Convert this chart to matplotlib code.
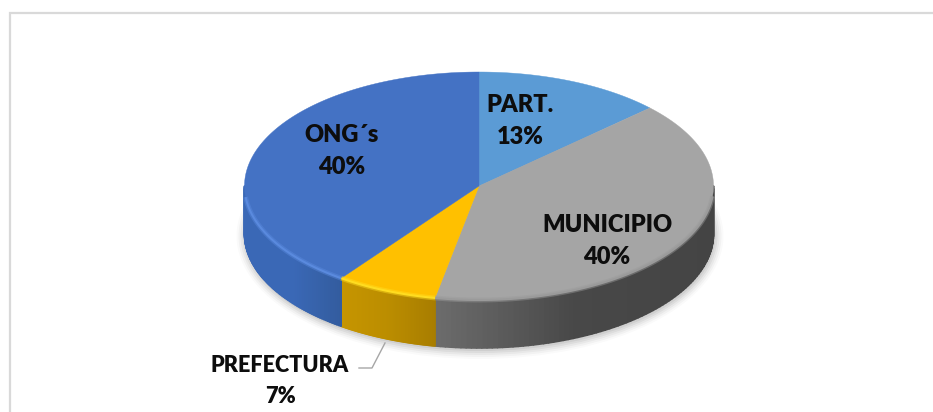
import numpy as np
import matplotlib
matplotlib.use("Agg")
import matplotlib.pyplot as plt
from matplotlib.collections import PolyCollection
from matplotlib.colors import to_rgb
from matplotlib.patches import Rectangle, Ellipse

categories = ["PART.", "MUNICIPIO", "PREFECTURA", "ONG´s"]
values = [13, 40, 7, 40]
top_colors = ["#5b9bd5", "#a5a5a5", "#ffc000", "#4472c4"]
rim_colors = ["#6fa8dc", "#9a9a9a", "#ffdc20", "#5a8ade"]
# side colours, left end / mid / right end of the visible wall
side_colors = {
    "MUNICIPIO": ["#6c6c6c", "#484848", "#444444"],
    "PREFECTURA": ["#c69500", "#bb8d00", "#a87d00"],
    "ONG´s": ["#3a68b6", "#3a68b6", "#335c9e"],
}
label_pos = {"PART.": (520, 121), "MUNICIPIO": (607, 241),
             "PREFECTURA": (280, 381), "ONG´s": (342, 151)}
label_size = {"PART.": 17, "MUNICIPIO": 17, "PREFECTURA": 15.6, "ONG´s": 17}

cx, cy, rx, ry = 479, 186, 234.5, 114
depth = 48

plt.rcParams["font.family"] = ["Lato", "DejaVu Sans"]
fig = plt.figure(figsize=(9.33, 4.12), dpi=100)
ax = fig.add_axes([0, 0, 1, 1])
ax.set_xlim(0, 933)
ax.set_ylim(412, 0)
ax.axis("off")

ax.add_patch(Rectangle((9.5, 12.5), 940, 420, fc="white", ec="#d9d9d9", lw=1.6))


def pt(a, dy=0):
    # a is measured clockwise from the top of the pie
    return cx + rx * np.sin(a), cy - ry * np.cos(a) + dy


# soft shadow under the pie
for grow, alpha in zip([9, 7, 5, 3, 1], [0.02, 0.03, 0.04, 0.05, 0.06]):
    ax.add_patch(Ellipse((cx + 1, cy + depth + 2), 2 * (rx + grow), 2 * (ry + grow),
                         fc="black", ec="none", alpha=alpha, zorder=1))

fracs = np.array(values) / sum(values)
edges = np.concatenate([[0], np.cumsum(fracs)]) * 2 * np.pi

# wall of the pie, only the front half can be seen
for i, name in enumerate(categories):
    a0, a1 = max(edges[i], np.pi / 2), min(edges[i + 1], 3 * np.pi / 2)
    if name not in side_colors or a1 <= a0:
        continue
    steps = np.linspace(a0, a1, 80)
    stops = np.array([to_rgb(c) for c in side_colors[name]])
    xs = pt(steps)[0]
    polys, cols = [], []
    for k in range(len(steps) - 1):
        x0, y0 = pt(steps[k])
        x1, y1 = pt(steps[k + 1])
        polys.append([(x0, y0), (x1, y1), (x1, y1 + depth), (x0, y0 + depth)])
        # wall colour runs left to right on screen
        t = ((x0 + x1) / 2 - xs.min()) / (xs.max() - xs.min())
        cols.append([np.interp(t, [0, .5, 1], stops[:, c]) for c in range(3)])
    ax.add_collection(PolyCollection(polys, facecolors=cols, edgecolors=cols, lw=1.2, zorder=2))

# top face
for i, name in enumerate(categories):
    a = np.linspace(edges[i], edges[i + 1], 120)
    xs, ys = pt(a)
    ax.fill(np.r_[cx, xs], np.r_[cy, ys], color=top_colors[i], lw=0.3, zorder=3)
    front = (a > np.pi / 2 + 0.08) & (a < 3 * np.pi / 2 - 0.08)
    ax.plot(xs[front], ys[front], color=rim_colors[i], lw=3.5, alpha=0.45, zorder=4,
            solid_capstyle="butt")
    ax.plot(xs[front], ys[front], color=rim_colors[i], lw=1.5, zorder=4,
            solid_capstyle="butt")

ax.plot([385, 372, 359], [343, 368, 368], color="#a6a6a6", lw=1, zorder=5)

for name, v in zip(categories, values):
    x, y = label_pos[name]
    ax.text(x, y, f"{name}\n{v}%", ha="center", va="center", fontsize=label_size[name],
            fontweight="heavy", color="#0d0d0d", linespacing=1.55, zorder=6)

fig.savefig("out.png", dpi=100)
